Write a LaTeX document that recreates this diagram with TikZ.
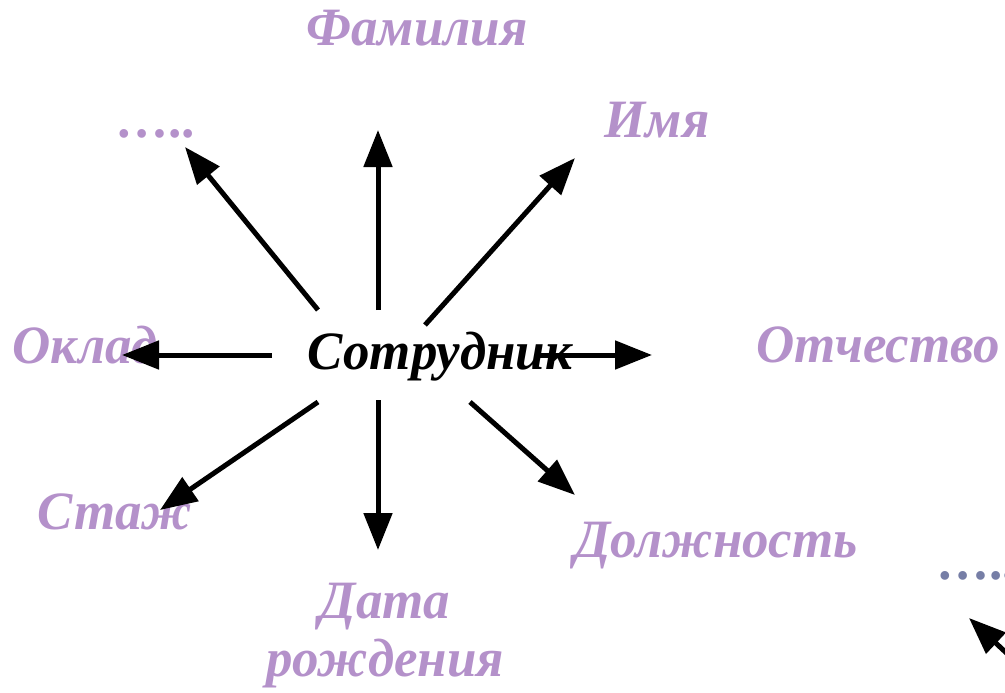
\documentclass[tikz,border=0pt]{standalone}
\usepackage{fontspec}
\setmainfont{Liberation Serif}
\usepackage{graphicx}
\usetikzlibrary{arrows.meta}
\definecolor{lilac}{RGB}{180,145,202}
\definecolor{slate}{RGB}{118,126,166}
\newcommand{\wide}[1]{\scalebox{0.98}[1]{#1}}
\tikzset{
  lbl/.style={font=\fontsize{54}{58}\selectfont\bfseries\itshape, text=lilac, inner sep=0pt, align=center},
  mainlbl/.style={font=\fontsize{54}{58}\selectfont\bfseries\itshape, text=black, inner sep=0pt},
  arr/.style={line width=5pt, -{Triangle[length=37pt,width=28pt]}},
}
\begin{document}
\begin{tikzpicture}[x=1pt,y=-1pt]
\useasboundingbox (0,0) rectangle (1005,693);
% labels
\node[lbl] (fam) at (417,28) {\wide{Фамилия}};
\node[lbl] (imya) at (657,120) {\wide{Имя}};
\node[lbl] (dots) at (157,134) {\wide{…..}};
\node[lbl] (oklad) at (85,345) {\wide{Оклад}};
\node[lbl] (otch) at (878,345) {\wide{Отчество}};
\node[lbl] (stazh) at (115,512) {\wide{Стаж}};
\node[lbl] (dolzh) at (716,546) {\wide{Должность}};
\node[lbl] (data) at (385,636) {\wide{Дата}\\[0pt]\wide{рождения}};
\node[lbl, text=slate, anchor=west] (dots2) at (938,576) {\wide{…..}};
\node[mainlbl] (sotr) at (440,357) {\wide{Сотрудник}};
% arrow ends
\coordinate (s1) at (378,310); \coordinate (t1) at (378,130);
\coordinate (s2) at (318,310); \coordinate (t2) at (185,147);
\coordinate (s3) at (425,325); \coordinate (t3) at (575,158);
\coordinate (s4) at (272,355); \coordinate (t4) at (122,355);
\coordinate (s5) at (540,355); \coordinate (t5) at (652,355);
\coordinate (s6) at (318,402); \coordinate (t6) at (160,510);
\coordinate (s7) at (378,400); \coordinate (t7) at (378,550);
\coordinate (s8) at (470,402); \coordinate (t8) at (575,495);
\coordinate (s9) at (1030,675); \coordinate (t9) at (969,618);
\foreach \i in {1,...,9} \draw[arr] (s\i) -- (t\i);
\end{tikzpicture}
\end{document}
